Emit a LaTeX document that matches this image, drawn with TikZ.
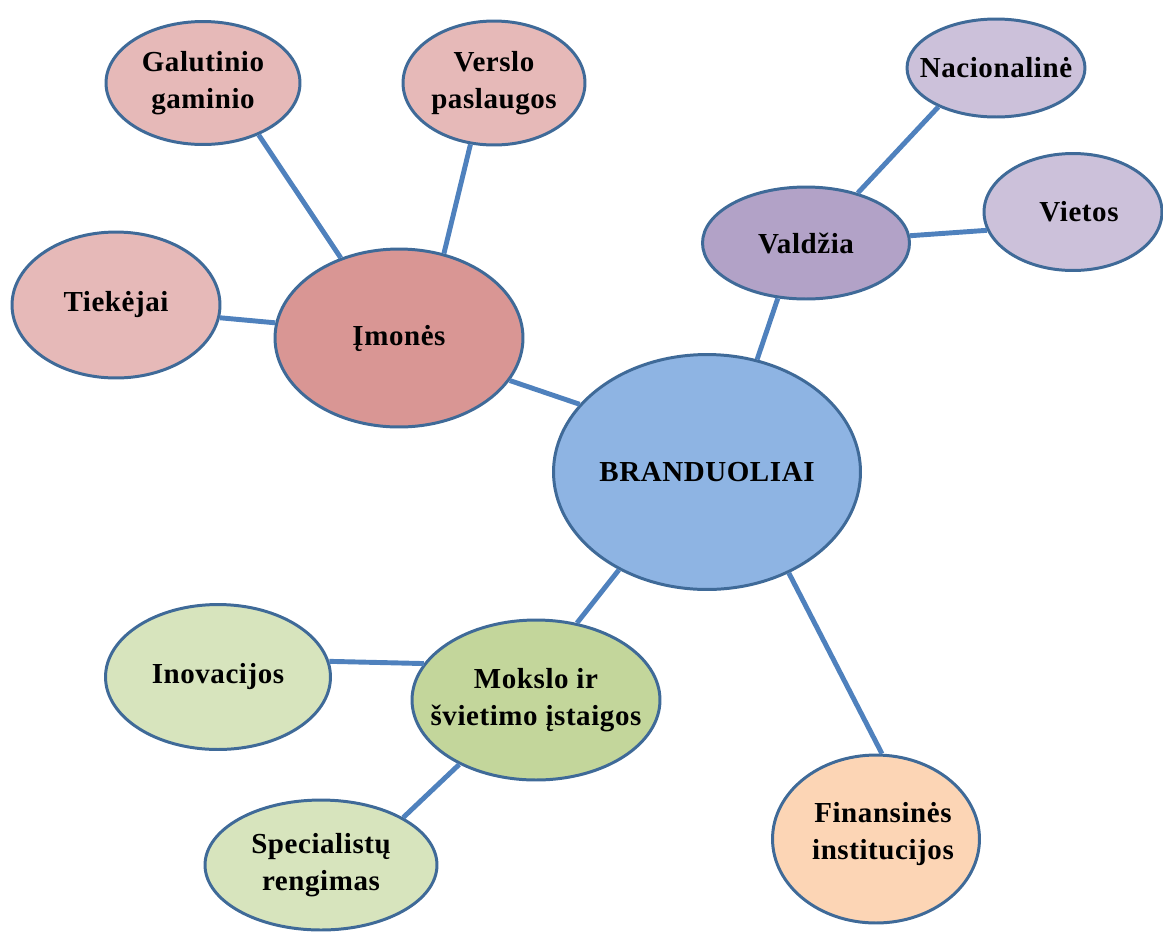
\documentclass[tikz,border=0pt]{standalone}
\usepackage{fontspec}
\setmainfont{Liberation Serif}[LetterSpace=2]
\usetikzlibrary{shapes.geometric}
\definecolor{rim}{HTML}{3F6A98}
\definecolor{wire}{HTML}{4F81BD}
\definecolor{roseA}{HTML}{D99694}
\definecolor{roseB}{HTML}{E6B9B8}
\definecolor{lilacA}{HTML}{B2A2C7}
\definecolor{lilacB}{HTML}{CCC1DA}
\definecolor{skyA}{HTML}{8EB4E3}
\definecolor{oliveA}{HTML}{C3D69B}
\definecolor{oliveB}{HTML}{D7E4BD}
\definecolor{peach}{HTML}{FCD5B5}
\begin{document}
\begin{tikzpicture}[x=0.02cm,y=-0.02cm,
  bubble/.style={ellipse,draw=rim,line width=1.7pt,inner sep=0pt},
  words/.style={align=center,inner sep=0pt,font=\fontsize{16.5}{21}\selectfont\bfseries},
  link/.style={draw=wire,line width=2.8pt}]
\useasboundingbox (0,0) rectangle (1163,934);
% core and its groups
\node[bubble,fill=skyA,minimum width=6.14cm,minimum height=4.70cm,
  label={[words]center:BRANDUOLIAI}] (core) at (707,472) {};
\node[bubble,fill=roseA,minimum width=4.96cm,minimum height=3.56cm,
  label={[words]center:Įmonės}] (firms) at (399,338) {};
\node[bubble,fill=lilacA,minimum width=4.14cm,minimum height=2.24cm,
  label={[words]center:Valdžia}] (gov) at (806,243) {};
\node[bubble,fill=oliveA,minimum width=4.96cm,minimum height=3.20cm,
  label={[words]center:Mokslo ir\\švietimo įstaigos}] (edu) at (536,700) {};
\node[bubble,fill=peach,minimum width=4.14cm,minimum height=3.36cm,
  label={[words,xshift=0.14cm,yshift=0.1cm]center:Finansinės\\institucijos}] (fin) at (876,839) {};
% companies
\node[bubble,fill=roseB,minimum width=3.88cm,minimum height=2.46cm,
  label={[words]center:Galutinio\\gaminio}] (final) at (203,83) {};
\node[bubble,fill=roseB,minimum width=3.64cm,minimum height=2.48cm,
  label={[words]center:Verslo\\paslaugos}] (serv) at (494,83) {};
\node[bubble,fill=roseB,minimum width=4.16cm,minimum height=2.92cm,
  label={[words]center:Tiekėjai}] (supp) at (116,305) {};
% government
\node[bubble,fill=lilacB,minimum width=3.56cm,minimum height=1.96cm,
  label={[words]center:Nacionalinė}] (nat) at (996,68) {};
\node[bubble,fill=lilacB,minimum width=3.56cm,minimum height=2.34cm,
  label={[words,xshift=0.12cm]center:Vietos}] (loc) at (1073,212) {};
% education
\node[bubble,fill=oliveB,minimum width=4.50cm,minimum height=2.90cm,
  label={[words]center:Inovacijos}] (inno) at (218,677) {};
\node[bubble,fill=oliveB,minimum width=4.64cm,minimum height=2.60cm,
  label={[words]center:Specialistų\\rengimas}] (train) at (321,865) {};
% connectors
\draw[link] (final.317) -- (firms.126);
\draw[link] (serv.249) -- (firms.62);
\draw[link] (supp.353) -- (firms.173);
\draw[link] (firms.339) -- (core.152);
\draw[link] (gov.243) -- (core.66);
\draw[link] (gov.44) -- (nat.214);
\draw[link] (gov.4) -- (loc.192);
\draw[link] (core.228) -- (edu.62);
\draw[link] (edu.162) -- (inno.8);
\draw[link] (edu.220) -- (train.30);
\draw[link] (core.309) -- (fin.86);
\end{tikzpicture}
\end{document}
